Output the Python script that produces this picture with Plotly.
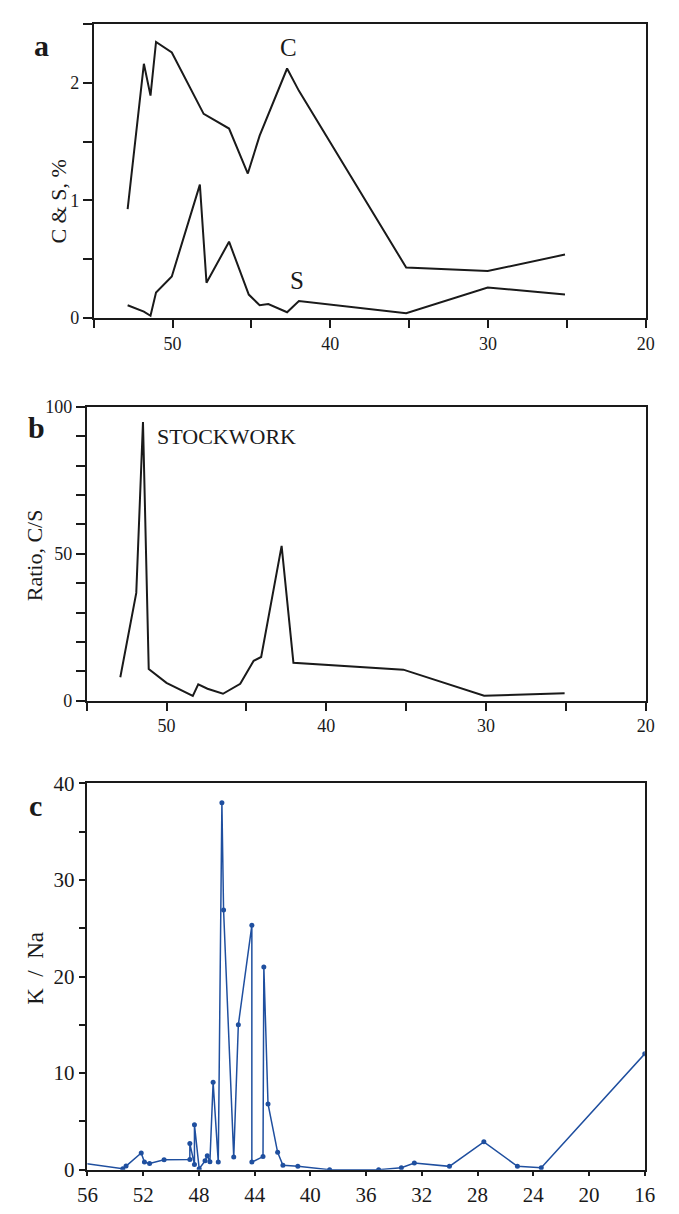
import plotly.graph_objects as go

# ---------------- data ----------------
# Panel a: C and S (%) versus age
age_c_pct = [52.85, 51.82, 51.4, 51.05, 50.05, 48.03, 46.42, 45.23, 44.48, 42.74, 41.99, 35.19, 30.02, 25.12]
carbon = [0.925, 2.16, 1.89, 2.345, 2.256, 1.735, 1.61, 1.228, 1.55, 2.12, 1.93, 0.43, 0.40, 0.54]
age_s_pct = [52.85, 51.82, 51.4, 51.05, 50.05, 48.27, 47.85, 46.42, 45.17, 44.48, 43.93, 42.74, 41.99, 35.19, 30.02, 25.12]
sulfur = [0.109, 0.056, 0.02, 0.217, 0.354, 1.134, 0.30, 0.649, 0.20, 0.109, 0.12, 0.05, 0.145, 0.042, 0.26, 0.20]

# Panel b: C/S ratio
age_ratio = [52.9, 51.9, 51.48, 51.12, 50.01, 48.36, 48.02, 47.44, 46.47, 45.39, 44.55, 44.08, 42.8, 42.06, 35.18, 30.12, 25.08]
ratio_cs = [8.0, 36.7, 94.8, 10.8, 6.1, 1.7, 5.6, 4.1, 2.4, 5.8, 13.6, 14.9, 52.7, 12.9, 10.6, 1.7, 2.6]

# Panel c: K/Na
age_kna = [57.0, 53.46, 53.23, 52.14, 51.91, 51.54, 50.5, 48.65, 48.65, 48.32, 48.32, 47.98, 47.56, 47.4,
           47.21, 46.98, 46.61, 46.35, 46.23, 45.5, 45.17, 44.2, 44.2, 43.4, 43.34, 43.04, 42.35, 41.97,
           40.9, 38.62, 35.1, 33.47, 32.54, 30.02, 27.55, 25.14, 23.43, 16.0]
k_na = [0.8, 0.1, 0.37, 1.73, 0.78, 0.64, 1.02, 1.05, 2.7, 0.54, 4.64, 0.1, 0.91, 1.45,
        0.81, 9.04, 0.78, 38.0, 26.9, 1.3, 15.0, 25.3, 0.78, 1.35, 21.0, 6.8, 1.8, 0.45,
        0.35, 0.0, 0.0, 0.2, 0.68, 0.34, 2.88, 0.34, 0.2, 12.0]

ticks_ab = [50, 40, 30, 20]
ticks_c = [56, 52, 48, 44, 40, 36, 32, 28, 24, 20, 16]

# ---------------- layout helpers ----------------
W, H = 679, 1214
FONT = "Liberation Serif"
INK = "#1a1a1a"
BLUE = "#1f4f9f"


def xd(l, r):
    return [l / W, r / W]


def yd(t, b):
    return [1 - b / H, 1 - t / H]


def axis_common(size, ticklen=8):
    return dict(showline=True, linecolor=INK, linewidth=1.6, mirror=True,
                ticks="outside", ticklen=ticklen, tickwidth=1.5, tickcolor=INK,
                showgrid=False, zeroline=False,
                tickfont=dict(family=FONT, size=size, color=INK))


def minor(dtick, ticklen=8):
    return dict(dtick=dtick, ticks="outside", ticklen=ticklen, tickwidth=1.5, tickcolor=INK)


fig = go.Figure()

fig.add_trace(go.Scatter(x=age_c_pct, y=carbon, mode="lines",
                         line=dict(color=INK, width=2), xaxis="x", yaxis="y"))
fig.add_trace(go.Scatter(x=age_s_pct, y=sulfur, mode="lines",
                         line=dict(color=INK, width=2), xaxis="x", yaxis="y"))
fig.add_trace(go.Scatter(x=age_ratio, y=ratio_cs, mode="lines",
                         line=dict(color=INK, width=2), xaxis="x2", yaxis="y2"))
fig.add_trace(go.Scatter(x=age_kna, y=k_na, mode="lines+markers",
                         line=dict(color=BLUE, width=1.5),
                         marker=dict(color=BLUE, size=5), xaxis="x3", yaxis="y3"))

xa = axis_common(18, 8)
xa.update(domain=xd(85.5, 656), range=[55, 20], tickvals=ticks_ab, anchor="y", minor=minor(5, 8))
ya = axis_common(18, 9)
ya.update(domain=yd(12, 312.3), range=[0, 2.5], dtick=1, anchor="x", minor=minor(0.5, 9))

xb = axis_common(18, 8)
xb.update(domain=xd(78.3, 656), range=[55, 20], tickvals=ticks_ab, anchor="y2", minor=minor(5, 8))
yb = axis_common(18, 9)
yb.update(domain=yd(402.7, 702.7), range=[0, 100], dtick=50, anchor="x2", minor=minor(10, 9))

xc = axis_common(21, 5)
xc.update(domain=xd(79, 655), range=[56, 16], tickvals=ticks_c, anchor="y3")
yc = axis_common(21, 7)
yc.update(domain=yd(787, 1181), range=[0, 40], dtick=10, anchor="x3", minor=minor(5, 7))

annotations = [
    # panel letters
    dict(text="<b>a</b>", x=32 / W, y=1 - 34.5 / H, font=dict(size=30)),
    dict(text="<b>b</b>", x=26 / W, y=1 - 423.5 / H, font=dict(size=30)),
    dict(text="<b>c</b>", x=25 / W, y=1 - 809.5 / H, font=dict(size=30)),
    # axis titles
    dict(text="C &amp; S, %", x=49 / W, y=1 - 193 / H, textangle=-90, font=dict(size=22)),
    dict(text="Ratio, C/S", x=24 / W, y=1 - 554 / H, textangle=-90, font=dict(size=22)),
    dict(text="K  /  Na", x=26 / W, y=1 - 976 / H, textangle=-90, font=dict(size=23)),
]
for a in annotations:
    a.update(xref="paper", yref="paper", showarrow=False, xanchor="center", yanchor="middle")
    a["font"].update(family=FONT, color=INK)

annotations += [
    dict(text="C", x=42.64, y=2.298, xref="x", yref="y", showarrow=False,
         font=dict(family=FONT, size=25, color=INK)),
    dict(text="S", x=42.13, y=0.323, xref="x", yref="y", showarrow=False,
         font=dict(family=FONT, size=25, color=INK)),
    dict(text="STOCKWORK", x=50.72, y=90, xref="x2", yref="y2", showarrow=False,
         xanchor="left", font=dict(family=FONT, size=22, color=INK)),
]

fig.update_layout(
    width=W, height=H, margin=dict(l=0, r=0, t=0, b=0),
    paper_bgcolor="white", plot_bgcolor="white", showlegend=False,
    xaxis=xa, yaxis=ya, xaxis2=xb, yaxis2=yb, xaxis3=xc, yaxis3=yc,
    annotations=annotations,
)

fig.write_html(
    "out.html",
    config={"displayModeBar": False},
    post_script="document.body.style.margin='0';document.body.style.overflow='hidden';",
)
